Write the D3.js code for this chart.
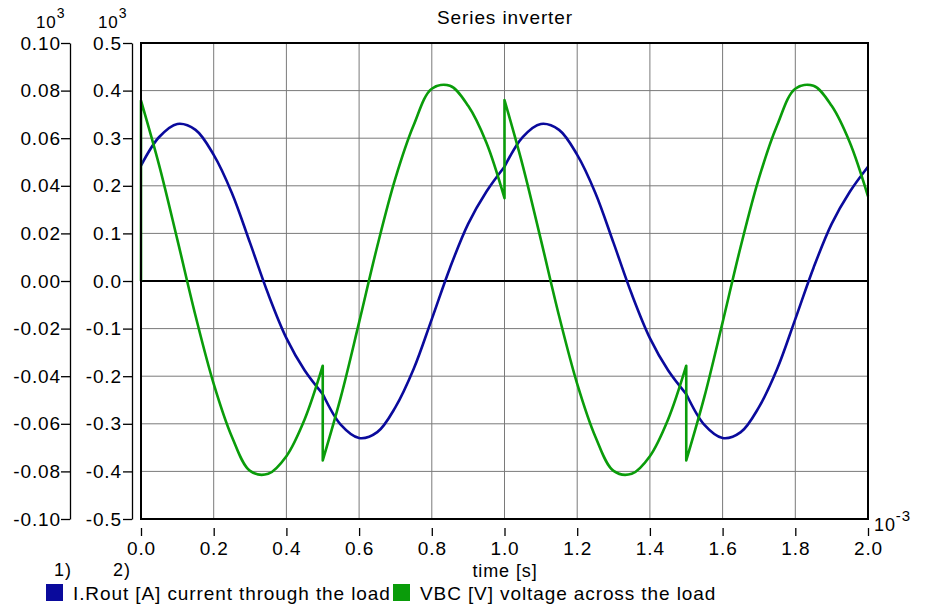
<!DOCTYPE html>
<html>
<head>
<meta charset="utf-8">
<script src="https://cdn.jsdelivr.net/npm/d3@7/dist/d3.min.js"></script>
<style>
  html, body { margin: 0; padding: 0; background: #fff; }
  svg { display: block; }
  text { font-family: "Liberation Sans", Arial, Helvetica, sans-serif; fill: #000; letter-spacing: 0.9px; }
</style>
</head>
<body>
<svg id="chart" width="929" height="608"></svg>
<script>
// ---- data (time in ms, current in A, voltage in V) ----
const timeMs = [0, 0.05, 0.1, 0.15, 0.2, 0.25, 0.3, 0.35, 0.4, 0.45,
  0.5, 0.55, 0.6, 0.65, 0.7, 0.75, 0.8, 0.85, 0.9, 0.95,
  1.0, 1.05, 1.1, 1.15, 1.2, 1.25, 1.3, 1.35, 1.4, 1.45,
  1.5, 1.55, 1.6, 1.65, 1.7, 1.75, 1.8, 1.85, 1.9, 1.95, 2.0];
const currentA = [48.5, 60.5, 66, 63.5, 53, 37, 16, -5.5, -24, -37.5,
  -47.5, -60.5, -66, -63.5, -53, -37, -16, 5.5, 24, 37.5,
  48, 60.5, 66, 63.5, 53, 37, 16, -5.5, -24, -37.5,
  -47.5, -60.5, -66, -63.5, -53, -37, -16, 5.5, 24, 37.5, 48];
const switchTimes = [0.5, 1.0, 1.5];

const voltTime = [0, 0, 0.05, 0.1, 0.15, 0.2, 0.25, 0.3, 0.35, 0.4, 0.45, 0.5,
  0.5, 0.55, 0.6, 0.65, 0.7, 0.75, 0.8, 0.85, 0.9, 0.95, 1.0,
  1.0, 1.05, 1.1, 1.15, 1.2, 1.25, 1.3, 1.35, 1.4, 1.45, 1.5,
  1.5, 1.55, 1.6, 1.65, 1.7, 1.75, 1.8, 1.85, 1.9, 1.95, 2.0];
const voltValue = [0, 379, 243, 87, -73, -216, -327, -399, -405, -368, -291, -178,
  -377, -243, -87, 73, 216, 327, 404, 410, 368, 291, 174,
  380, 243, 87, -73, -216, -327, -399, -405, -368, -291, -178,
  -377, -243, -87, 73, 216, 327, 404, 410, 368, 291, 178];

const xTicks = [0, 0.2, 0.4, 0.6, 0.8, 1.0, 1.2, 1.4, 1.6, 1.8, 2.0];
const xTickLabels = ["0.0", "0.2", "0.4", "0.6", "0.8", "1.0", "1.2", "1.4", "1.6", "1.8", "2.0"];
const y1Ticks = [-100, -80, -60, -40, -20, 0, 20, 40, 60, 80, 100];
const y1TickLabels = ["-0.10", "-0.08", "-0.06", "-0.04", "-0.02", "0.00", "0.02", "0.04", "0.06", "0.08", "0.10"];
const y2Ticks = [-500, -400, -300, -200, -100, 0, 100, 200, 300, 400, 500];
const y2TickLabels = ["-0.5", "-0.4", "-0.3", "-0.2", "-0.1", "0.0", "0.1", "0.2", "0.3", "0.4", "0.5"];

const titleText = "Series inverter";
const xAxisTitle = "time [s]";
const legendNames = ["I.Rout [A] current through the load", "VBC [V] voltage across the load"];
const seriesColors = ["#0a0a9c", "#0a9c0a"];

// ---- layout ----
const L = 141, R = 868, T = 43, B = 519;
const FS = 19;
const svg = d3.select("#chart");
svg.append("rect").attr("width", 929).attr("height", 608).attr("fill", "#fff");

const x = d3.scaleLinear().domain([0, 2]).range([L, R]);
const y1 = d3.scaleLinear().domain([-100, 100]).range([B, T]);
const y2 = d3.scaleLinear().domain([-500, 500]).range([B, T]);

// grid
const grid = svg.append("g");
grid.selectAll("line.v").data(xTicks).join("line")
  .attr("x1", d => x(d)).attr("x2", d => x(d)).attr("y1", T).attr("y2", B)
  .attr("stroke", "#7a7a7a").attr("stroke-width", 1);
grid.selectAll("line.h").data(y2Ticks).join("line")
  .attr("y1", d => y2(d)).attr("y2", d => y2(d)).attr("x1", L).attr("x2", R)
  .attr("stroke", "#7a7a7a").attr("stroke-width", 1);
// zero line
svg.append("line").attr("x1", L).attr("x2", R).attr("y1", y2(0)).attr("y2", y2(0))
  .attr("stroke", "#000").attr("stroke-width", 2);

// join smooth segments into one continuous path
function joinSegments(segs, gen, xs, ys) {
  let d = "";
  segs.forEach((s, i) => {
    let str = s.length > 1 ? gen(s) : `M${xs(s[0])},${ys(s[0])}`;
    str = str.replace(/Z$/, "");
    if (i > 0) str = "L" + str.slice(1);
    d += str;
  });
  return d;
}

// series 1: current
const cPts = timeMs.map((t, i) => ({ t: t, v: currentA[i] }));
const cSegs = [[]];
cPts.forEach(p => {
  cSegs[cSegs.length - 1].push(p);
  if (switchTimes.indexOf(p.t) >= 0) cSegs.push([p]);
});
const lineC = d3.line().x(d => x(d.t)).y(d => y1(d.v)).curve(d3.curveCatmullRom.alpha(0.5));
svg.append("path").attr("d", joinSegments(cSegs, lineC, d => x(d.t), d => y1(d.v)))
  .attr("fill", "none").attr("stroke", seriesColors[0]).attr("stroke-width", 2.6)
  .attr("stroke-linejoin", "round");

// series 2: voltage (with switching jumps)
const vPts = voltTime.map((t, i) => ({ t: t, v: voltValue[i] }));
const vSegs = [];
vPts.forEach((p, i) => {
  if (i === 0 || p.t === vPts[i - 1].t) vSegs.push([p]); else vSegs[vSegs.length - 1].push(p);
});
const lineV = d3.line().x(d => x(d.t)).y(d => y2(d.v)).curve(d3.curveCatmullRom.alpha(0.5));
svg.append("path").attr("d", joinSegments(vSegs, lineV, d => x(d.t), d => y2(d.v)))
  .attr("fill", "none").attr("stroke", seriesColors[1]).attr("stroke-width", 2.6)
  .attr("stroke-linejoin", "round");

// plot border
svg.append("rect").attr("x", L).attr("y", T).attr("width", R - L).attr("height", B - T)
  .attr("fill", "none").attr("stroke", "#000").attr("stroke-width", 2);

// axes
function styleAxis(g) {
  g.selectAll("text").style("font-size", FS + "px").attr("fill", "#000")
    .style("font-family", '"Liberation Sans", Arial, sans-serif');
  g.selectAll("line").attr("stroke", "#000").attr("stroke-width", 1.3);
  g.select(".domain").attr("stroke", "#000").attr("stroke-width", 1.3);
}
const ax1 = svg.append("g").attr("transform", "translate(70,0)")
  .call(d3.axisLeft(y1).tickValues(y1Ticks).tickFormat((d, i) => y1TickLabels[i])
    .tickSizeInner(9).tickSizeOuter(0).tickPadding(0));
styleAxis(ax1);
const ax2 = svg.append("g").attr("transform", "translate(132,0)")
  .call(d3.axisLeft(y2).tickValues(y2Ticks).tickFormat((d, i) => y2TickLabels[i])
    .tickSizeInner(9).tickSizeOuter(0).tickPadding(1));
styleAxis(ax2);
const axx = svg.append("g").attr("transform", "translate(0,528)")
  .call(d3.axisBottom(x).tickValues(xTicks).tickFormat((d, i) => xTickLabels[i])
    .tickSizeInner(8).tickSizeOuter(0).tickPadding(6));
styleAxis(axx);
axx.select(".domain").remove();

// exponent labels
function expLabel(xb, yb, base, exp, size) {
  const t = svg.append("text").attr("x", xb).attr("y", yb).style("font-size", size + "px");
  t.append("tspan").text(base);
  t.append("tspan").attr("dy", -10).style("font-size", (size - 3) + "px").text(exp);
}
expLabel(36, 28, "10", "3", 17);
expLabel(98, 28, "10", "3", 17);
expLabel(874, 531, "10", "-3", 18);

// title
svg.append("text").attr("x", 505).attr("y", 24).attr("text-anchor", "middle")
  .style("font-size", FS + "px").text(titleText);
// x axis title
svg.append("text").attr("x", 505).attr("y", 577).attr("text-anchor", "middle")
  .style("font-size", "18px").text(xAxisTitle);
// axis numbers
svg.append("text").attr("x", 54).attr("y", 576).style("font-size", "18px").text("1)");
svg.append("text").attr("x", 113).attr("y", 576).style("font-size", "18px").text("2)");

// legend
const legX = [46, 393];
legendNames.forEach((n, i) => {
  svg.append("rect").attr("x", legX[i]).attr("y", 584).attr("width", 17).attr("height", 17)
    .attr("fill", seriesColors[i]);
  svg.append("text").attr("x", legX[i] + 27).attr("y", 600).style("font-size", FS + "px").text(n);
});
</script>
</body>
</html>
